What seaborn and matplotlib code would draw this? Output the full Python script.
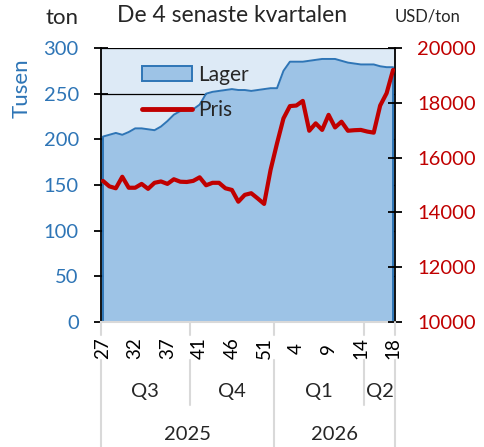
import matplotlib
matplotlib.use("Agg")
import matplotlib.pyplot as plt
from matplotlib.lines import Line2D
from matplotlib.patches import Patch
from matplotlib.transforms import blended_transform_factory
import numpy as np
import pandas as pd
import seaborn as sns

# ---------------- data ----------------
weeks = [27, 28, 29, 30, 31, 32, 33, 34, 35, 36, 37, 38, 39, 40,
         40, 41, 42, 43, 44, 45, 46, 47, 48, 49, 50, 51, 52,
         1, 2, 3, 4, 5, 6, 7, 8, 9, 10, 11, 12, 13, 14,
         14, 15, 16, 17, 18]
quarter_labels = ["Q3", "Q4", "Q1", "Q2"]
quarter_counts = [14, 13, 14, 5]
year_labels = ["2025", "2026"]
year_counts = [27, 19]

lager = [203, 205, 207, 205, 208, 212, 212, 211, 210, 214, 220, 227, 231, 232,
         233, 238, 250, 252, 253, 254, 255, 254, 254, 253, 254, 255, 256,
         256, 275, 285, 285, 285, 286, 287, 288, 288, 288, 286, 284, 283, 282,
         282, 282, 280, 279, 279]
pris = [15150, 14950, 14880, 15300, 14900, 14900, 15040, 14860, 15080, 15130,
        15040, 15210, 15120, 15110, 15150, 15280, 14990, 15080, 15080, 14880,
        14820, 14390, 14640, 14700, 14510, 14310, 15550, 16520, 17430, 17880,
        17900, 18070, 16980, 17250, 17010, 17560, 17100, 17310, 16980, 17000,
        17010, 16950, 16910, 17900, 18350, 19200]

title = "De 4 senaste kvartalen"
left_unit = "ton"
left_label = "Tusen"
right_unit = "USD/ton"
legend_labels = ["Lager", "Pris"]

df = pd.DataFrame({"pos": np.arange(len(weeks)), "lager": lager, "pris": pris})

# ---------------- style ----------------
sns.set_theme(style="ticks")
plt.rcParams["font.family"] = ["Lato", "DejaVu Sans"]

BLUE = "#2E75B6"
FILL = "#9DC3E6"
BG = "#DDEAF6"
RED = "#C00000"
GREY = "#D9D9D9"

W, H = 484, 447
fig = plt.figure(figsize=(W / 100, H / 100), dpi=100)
ax = fig.add_axes([101 / W, (H - 322) / H, 294 / W, 274 / H])
ax.set_facecolor(BG)

# area (Lager)
ax.fill_between(df["pos"], df["lager"], 0, color=FILL, lw=0, zorder=2)
sns.lineplot(data=df, x="pos", y="lager", ax=ax, color=BLUE, lw=1.4, zorder=3)
ax.vlines([df["pos"].iloc[0], df["pos"].iloc[-1]], 0,
          [df["lager"].iloc[0], df["lager"].iloc[-1]], color=BLUE, lw=1.4, zorder=3)

ax.set_xlim(-0.3, len(weeks) - 1 + 0.3)
ax.set_ylim(0, 300)
ax.set_yticks(np.arange(0, 301, 50))
ax.set_axisbelow(True)
ax.grid(axis="y", color="black", lw=0.9)
ax.grid(axis="x", visible=False)
ax.set_xlabel("")
ax.set_ylabel("")

ax.spines["top"].set_visible(False)
ax.spines["left"].set_color("black")
ax.spines["left"].set_linewidth(1.3)
ax.spines["right"].set_visible(False)
ax.spines["bottom"].set_color(GREY)
ax.spines["bottom"].set_linewidth(1.5)
ax.spines["bottom"].set_zorder(4)

ax.tick_params(axis="y", direction="inout", length=10, width=1.3, color="black",
               labelcolor=BLUE, labelsize=14.5, pad=11, left=True)

tick_pos = list(range(0, len(weeks), 5))
ax.set_xticks(tick_pos, [str(weeks[i]) for i in tick_pos])
ax.tick_params(axis="x", length=0, pad=19, labelsize=13.5, labelcolor="black")
for lab in ax.get_xticklabels():
    lab.set_rotation(90)
    lab.set_va("center")
    lab.set_ha("center")

# price on secondary axis
ax2 = ax.twinx()
sns.lineplot(data=df, x="pos", y="pris", ax=ax2, color=RED, lw=3.0, zorder=5)
ax2.set_ylim(10000, 20000)
ax2.set_yticks(np.arange(10000, 20001, 2000))
ax2.set_ylabel("")
ax2.grid(False)
for s in ["top", "left", "bottom"]:
    ax2.spines[s].set_visible(False)
ax2.spines["right"].set_visible(True)
ax2.spines["right"].set_color("black")
ax2.spines["right"].set_linewidth(1.3)
ax2.tick_params(axis="y", direction="inout", length=10, width=1.3, color="black",
                labelcolor=RED, labelsize=14.5, pad=11, right=True)

# multi-level category axis
tr = blended_transform_factory(ax.transData, ax.transAxes)
xl = ax.get_xlim()
q_edges = np.concatenate([[0], np.cumsum(quarter_counts)]) - 0.5
y_edges = np.concatenate([[0], np.cumsum(year_counts)]) - 0.5
year_bounds = set(np.round(y_edges, 2))
for e in q_edges:
    xe = min(max(e, xl[0]), xl[1])
    bottom = -0.46 if round(e, 2) in year_bounds else -0.303
    for y0, y1 in [(0, -0.047), (-0.139, bottom)]:
        fig.add_artist(Line2D([xe, xe], [y0, y1], transform=tr, color=GREY, lw=1.5,
                              clip_on=False))
for i, lab in enumerate(quarter_labels):
    c = (q_edges[i] + q_edges[i + 1]) / 2
    ax.text(c, -0.255, lab, transform=tr, ha="center", va="center", fontsize=14.5)
for i, lab in enumerate(year_labels):
    c = (min(max(y_edges[i], xl[0]), xl[1]) + min(max(y_edges[i + 1], xl[0]), xl[1])) / 2
    ax.text(c, -0.412, lab, transform=tr, ha="center", va="center", fontsize=14.5)

# legend
handles = [Patch(facecolor=FILL, edgecolor=BLUE, lw=1.4),
           Line2D([], [], color=RED, lw=3.5)]
ax2.legend(handles, legend_labels, loc="upper left",
           bbox_to_anchor=(142 / W, (H - 65) / H), bbox_transform=fig.transFigure,
           frameon=False, fontsize=15, handlelength=2.4, handletextpad=0.3,
           labelspacing=0.72, borderpad=0, borderaxespad=0)

# texts
fig.text(62 / W, 1 - 18 / H, left_unit, ha="center", va="center", fontsize=16)
fig.text(232 / W, 1 - 16 / H, title, ha="center", va="center", fontsize=16.5)
fig.text(428 / W, 1 - 16 / H, right_unit, ha="center", va="center", fontsize=12)
fig.text(22 / W, 1 - 88 / H, left_label, ha="center", va="center", rotation=90,
         fontsize=16, color=BLUE)

fig.savefig("out.png", dpi=100)
